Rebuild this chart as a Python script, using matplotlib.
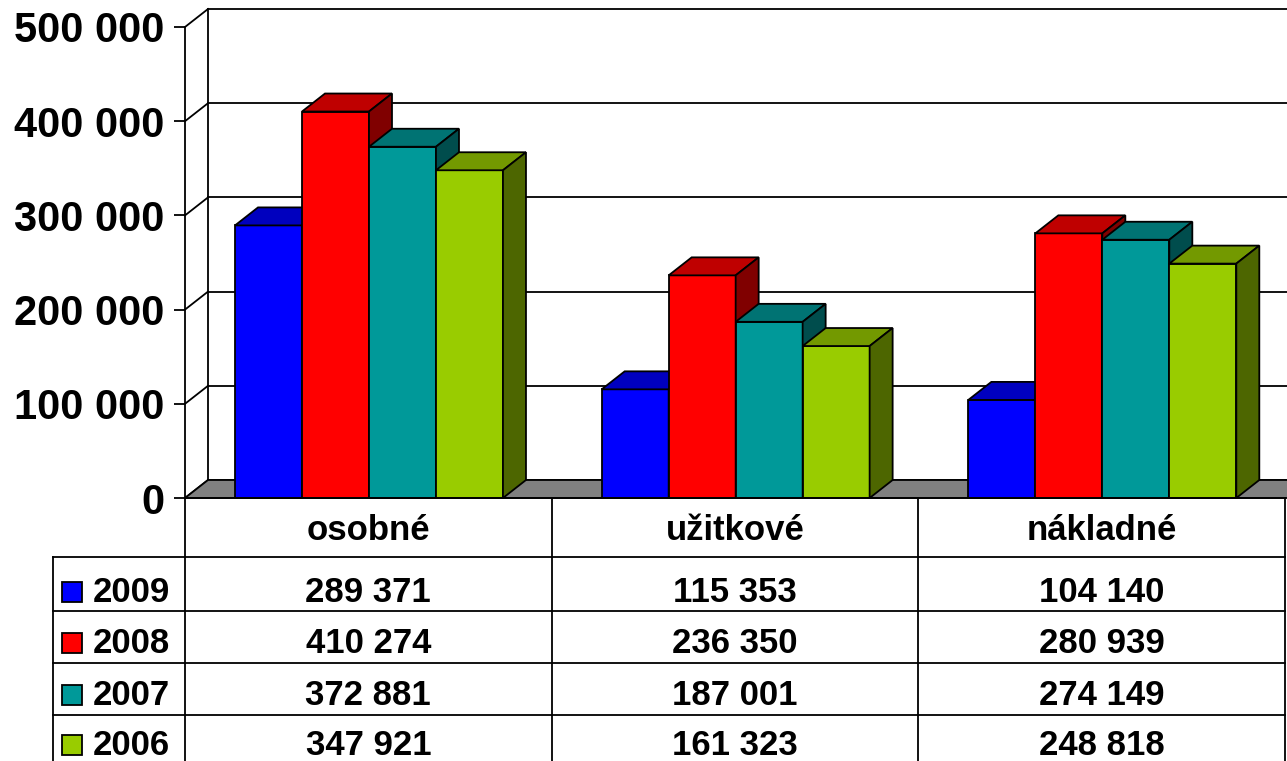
import matplotlib
matplotlib.use("Agg")
from matplotlib import pyplot as plt
from matplotlib.patches import Polygon, Rectangle

categories = ['osobné', 'užitkové', 'nákladné']
years = ['2009', '2008', '2007', '2006']
values_2009 = [289371, 115353, 104140]
values_2008 = [410274, 236350, 280939]
values_2007 = [372881, 187001, 274149]
values_2006 = [347921, 161323, 248818]
series = [values_2009, values_2008, values_2007, values_2006]
yticks = [0, 100000, 200000, 300000, 400000, 500000]

front_colors = ['#0000FF', '#FF0000', '#009999', '#99CC00']
top_colors = ['#0000BF', '#BF0000', '#007373', '#739900']
side_colors = ['#000080', '#800000', '#004D4D', '#4D6600']


def fmt(v):
    return f"{v:,}".replace(",", " ")


plt.rcParams['font.family'] = ['Liberation Sans', 'DejaVu Sans']
plt.rcParams['font.weight'] = 'bold'

W, H = 1287, 761
fig = plt.figure(figsize=(W / 100, H / 100), dpi=100)

# layout in pixels
x0_px, x3_px = 185, 1285
y0_px, ytop_px = 498, 27
ax = fig.add_axes([x0_px / W, 1 - y0_px / H, (x3_px - x0_px) / W, (y0_px - ytop_px) / H])
ax.set_xlim(0, 3)
ax.set_ylim(0, 500000)
unit_x = (x3_px - x0_px) / 3
unit_y = (y0_px - ytop_px) / 500000
dx = 23 / unit_x     # depth offset
dy = 18 / unit_y
lw = 1.3

# back wall, side wall grid lines
for v in yticks:
    ax.plot([dx, 3 + dx], [v + dy, v + dy], color='k', lw=lw, clip_on=False, zorder=1)
    ax.plot([0, dx], [v, v + dy], color='k', lw=lw, clip_on=False, zorder=1)
ax.plot([dx, dx], [dy, 500000 + dy], color='k', lw=lw, clip_on=False, zorder=1)

# floor
ax.add_patch(Polygon([(0, 0), (dx, dy), (3 + dx, dy), (3 + dx, 0)], closed=True,
                     fc='#808080', ec='k', lw=lw, clip_on=False, zorder=2))

# bars
bw = 0.1827
off = 0.1364
z = 3
for i in range(len(categories)):
    for j, vals in enumerate(series):
        left = i + off + j * bw
        h = vals[i]
        ax.add_patch(Rectangle((left, 0), bw, h, fc=front_colors[j], ec='k', lw=lw,
                               clip_on=False, zorder=z))
        ax.add_patch(Polygon([(left, h), (left + dx, h + dy), (left + bw + dx, h + dy), (left + bw, h)],
                             closed=True, fc=top_colors[j], ec='k', lw=lw, clip_on=False, zorder=z))
        ax.add_patch(Polygon([(left + bw, 0), (left + bw, h), (left + bw + dx, h + dy), (left + bw + dx, dy)],
                             closed=True, fc=side_colors[j], ec='k', lw=lw, clip_on=False, zorder=z))
        z += 0.01

ax.set_yticks(yticks)
ax.set_yticklabels([fmt(v) for v in yticks], fontsize=30, fontweight='bold')
ax.tick_params(axis='y', length=8, width=lw, pad=6.5, direction='out')
ax.set_xticks([])
for s in ['top', 'right', 'bottom']:
    ax.spines[s].set_visible(False)
ax.spines['left'].set_linewidth(lw)
ax.patch.set_alpha(0)

# data table below the chart
tab = fig.add_axes([x0_px / W, 0, (x3_px - x0_px) / W, (H - y0_px) / H])
tab.set_xlim(0, 3)
tab.set_ylim(H - y0_px, 0)
tab.axis('off')
row_lines = [0, 59, 113, 165, 217]
baselines = [42, 104, 155, 207, 257]
leg_left = (53 - x0_px) / unit_x
sq_left = (62 - x0_px) / unit_x
sq_w = 20 / unit_x
txt_left = (93 - x0_px) / unit_x

tab.plot([0, 3], [0, 0], color='k', lw=lw, clip_on=False)
for r in row_lines[1:]:
    tab.plot([leg_left, 3], [r, r], color='k', lw=lw, clip_on=False)
for c in range(4):
    tab.plot([c, c], [0, 300], color='k', lw=lw, clip_on=False)
tab.plot([leg_left, leg_left], [row_lines[1], 300], color='k', lw=lw, clip_on=False)

for i, cat in enumerate(categories):
    tab.text(i + 0.5, baselines[0], cat, ha='center', va='baseline', fontsize=25, fontweight='bold')
    for j, vals in enumerate(series):
        tab.text(i + 0.5, baselines[j + 1], fmt(vals[i]), ha='center', va='baseline',
                 fontsize=25, fontweight='bold', clip_on=False)

for j, yr in enumerate(years):
    b = baselines[j + 1]
    tab.add_patch(Rectangle((sq_left, b - 20), sq_w, 20, fc=front_colors[j], ec='k', lw=lw, clip_on=False))
    tab.text(txt_left, b, yr, ha='left', va='baseline', fontsize=25, fontweight='bold', clip_on=False)

plt.savefig('out.png', dpi=100)
